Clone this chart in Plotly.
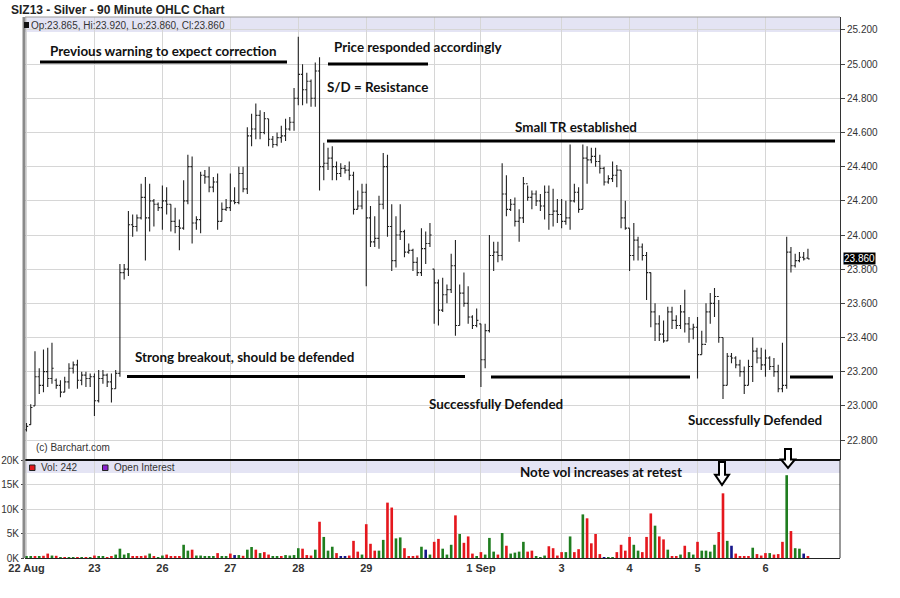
import plotly.graph_objects as go

# ---------------- data ----------------
opens = [22.86, 22.89, 23.00, 23.17, 23.12, 23.20, 23.16, 23.15, 23.12, 23.08,
         23.14, 23.22, 23.24, 23.15, 23.18, 23.16, 23.17, 23.03, 23.16, 23.18,
         23.14, 23.10, 23.19, 23.78, 23.80, 24.06, 24.05, 24.10, 24.22, 24.10,
         24.20, 24.18, 24.16, 24.20, 24.18, 24.08, 24.05, 24.04, 24.20, 24.40,
         24.07, 24.09, 24.35, 24.34, 24.28, 24.31, 24.08, 24.15, 24.16, 24.20,
         24.19, 24.36, 24.27, 24.58, 24.62, 24.70, 24.60, 24.68, 24.56, 24.53,
         24.57, 24.58, 24.62, 24.66, 24.80, 24.94, 24.85, 24.90, 24.80, 24.96,
         24.40, 24.42, 24.45, 24.40, 24.36, 24.39, 24.38, 24.35, 24.15, 24.17,
         24.25, 24.10, 23.96, 23.98, 24.18, 24.40, 24.05, 23.85, 24.00, 24.02,
         23.90, 23.91, 23.84, 23.78, 23.92, 23.95, 23.80, 23.72, 23.56, 23.65,
         23.68, 23.82, 23.47, 23.66, 23.60, 23.52, 23.47, 23.48, 23.27, 23.44,
         23.88, 23.90, 23.88, 24.24, 24.15, 24.18, 24.08, 24.10, 24.30, 24.22,
         24.24, 24.20, 24.17, 24.25, 24.12, 24.14, 24.12, 24.08, 24.10, 24.20,
         24.25, 24.15, 24.45, 24.44, 24.46, 24.43, 24.39, 24.31, 24.33, 24.35,
         24.38, 24.10, 24.04, 23.88, 23.97, 23.93, 23.88, 23.78, 23.55, 23.48,
         23.42, 23.38, 23.55, 23.50, 23.47, 23.55, 23.48, 23.45, 23.46, 23.30,
         23.36, 23.55, 23.60, 23.64, 23.40, 23.12, 23.29, 23.28, 23.24, 23.20,
         23.12, 23.23, 23.32, 23.28, 23.24, 23.28, 23.23, 23.20, 23.10, 23.12,
         23.90, 23.82, 23.85, 23.87, 23.865]
highs = [22.90, 23.01, 23.32, 23.22, 23.33, 23.34, 23.37, 23.16, 23.15, 23.17,
         23.25, 23.26, 23.27, 23.20, 23.20, 23.19, 23.19, 23.21, 23.21, 23.19,
         23.19, 23.21, 23.83, 23.83, 24.14, 24.12, 24.12, 24.30, 24.34, 24.30,
         24.21, 24.19, 24.29, 24.28, 24.18, 24.16, 24.09, 24.32, 24.47, 24.46,
         24.11, 24.37, 24.38, 24.40, 24.34, 24.36, 24.19, 24.21, 24.36, 24.28,
         24.40, 24.40, 24.63, 24.71, 24.77, 24.73, 24.72, 24.68, 24.58, 24.60,
         24.64, 24.68, 24.69, 24.86, 25.16, 25.00, 24.95, 24.91, 25.01, 25.04,
         24.54, 24.51, 24.52, 24.43, 24.42, 24.41, 24.43, 24.37, 24.26, 24.30,
         24.30, 24.17, 24.11, 24.23, 24.48, 24.47, 24.18, 24.11, 24.18, 24.03,
         23.95, 23.92, 23.87, 24.04, 24.02, 24.07, 23.80, 23.74, 23.75, 23.71,
         23.89, 23.97, 23.71, 23.78, 23.70, 23.53, 23.57, 23.48, 23.48, 24.00,
         23.96, 23.96, 24.42, 24.35, 24.21, 24.22, 24.15, 24.34, 24.29, 24.26,
         24.26, 24.24, 24.29, 24.29, 24.27, 24.21, 24.21, 24.20, 24.53, 24.30,
         24.28, 24.53, 24.52, 24.51, 24.51, 24.47, 24.40, 24.35, 24.43, 24.41,
         24.38, 24.20, 24.04, 24.07, 23.99, 23.95, 23.90, 23.78, 23.60, 23.53,
         23.50, 23.58, 23.58, 23.53, 23.59, 23.68, 23.52, 23.48, 23.52, 23.44,
         23.60, 23.66, 23.69, 23.62, 23.40, 23.31, 23.31, 23.29, 23.27, 23.23,
         23.27, 23.40, 23.34, 23.34, 23.33, 23.29, 23.28, 23.24, 23.37, 23.99,
         23.93, 23.89, 23.90, 23.90, 23.92]
lows = [22.85, 22.89, 23.00, 23.07, 23.08, 23.11, 23.13, 23.10, 23.05, 23.08,
        23.10, 23.19, 23.10, 23.12, 23.11, 23.11, 22.94, 23.02, 23.13, 23.11,
        23.02, 23.10, 23.17, 23.74, 23.76, 23.99, 24.02, 24.09, 23.85, 24.02,
        24.05, 24.14, 24.03, 24.12, 24.02, 24.01, 23.91, 24.03, 24.18, 23.95,
        24.03, 24.01, 24.30, 24.25, 24.25, 24.03, 24.08, 24.14, 24.14, 24.18,
        24.18, 24.25, 24.24, 24.52, 24.56, 24.56, 24.59, 24.52, 24.51, 24.52,
        24.54, 24.55, 24.61, 24.61, 24.76, 24.76, 24.77, 24.75, 24.75, 24.26,
        24.32, 24.38, 24.32, 24.32, 24.34, 24.36, 24.32, 24.12, 24.15, 24.15,
        23.70, 23.93, 23.93, 23.92, 24.15, 23.99, 23.79, 23.81, 23.97, 23.87,
        23.89, 23.79, 23.76, 23.76, 23.83, 23.93, 23.48, 23.47, 23.55, 23.60,
        23.66, 23.41, 23.47, 23.58, 23.48, 23.45, 23.46, 23.11, 23.22, 23.43,
        23.79, 23.84, 23.85, 24.11, 24.14, 24.05, 23.96, 24.07, 24.20, 24.15,
        24.17, 24.14, 24.09, 24.03, 24.05, 24.07, 24.04, 24.06, 24.03, 24.19,
        24.13, 24.15, 24.30, 24.42, 24.40, 24.36, 24.29, 24.30, 24.31, 24.28,
        24.04, 24.03, 23.79, 23.85, 23.85, 23.85, 23.62, 23.46, 23.38, 23.38,
        23.37, 23.38, 23.45, 23.45, 23.45, 23.43, 23.37, 23.39, 23.16, 23.30,
        23.37, 23.48, 23.52, 23.37, 23.04, 23.12, 23.25, 23.22, 23.17, 23.07,
        23.12, 23.14, 23.25, 23.21, 23.17, 23.21, 23.17, 23.08, 23.08, 23.10,
        23.78, 23.81, 23.84, 23.85, 23.86]
closes = [22.88, 22.99, 23.17, 23.12, 23.20, 23.16, 23.22, 23.12, 23.08, 23.14,
          23.22, 23.24, 23.15, 23.18, 23.16, 23.17, 23.03, 23.16, 23.18, 23.14,
          23.10, 23.19, 23.78, 23.80, 24.06, 24.05, 24.10, 24.22, 24.10, 24.20,
          24.18, 24.16, 24.20, 24.18, 24.08, 24.05, 24.04, 24.20, 24.40, 24.07,
          24.09, 24.35, 24.34, 24.28, 24.31, 24.08, 24.15, 24.16, 24.20, 24.19,
          24.36, 24.27, 24.58, 24.62, 24.70, 24.60, 24.68, 24.56, 24.53, 24.57,
          24.58, 24.62, 24.66, 24.80, 24.94, 24.85, 24.90, 24.80, 24.96, 24.40,
          24.42, 24.45, 24.40, 24.36, 24.39, 24.38, 24.35, 24.15, 24.17, 24.25,
          24.10, 23.96, 23.98, 24.18, 24.40, 24.05, 23.85, 24.00, 24.02, 23.90,
          23.91, 23.84, 23.78, 23.92, 23.95, 24.00, 23.72, 23.56, 23.65, 23.68,
          23.82, 23.47, 23.66, 23.60, 23.52, 23.47, 23.50, 23.27, 23.44, 23.88,
          23.90, 23.88, 24.24, 24.15, 24.18, 24.08, 24.10, 24.30, 24.22, 24.24,
          24.20, 24.17, 24.25, 24.12, 24.14, 24.12, 24.08, 24.10, 24.20, 24.25,
          24.15, 24.45, 24.44, 24.46, 24.43, 24.39, 24.31, 24.33, 24.35, 24.38,
          24.10, 24.04, 23.88, 23.97, 23.93, 23.88, 23.78, 23.55, 23.48, 23.42,
          23.38, 23.55, 23.50, 23.47, 23.55, 23.48, 23.45, 23.46, 23.30, 23.36,
          23.55, 23.60, 23.64, 23.40, 23.12, 23.29, 23.28, 23.24, 23.20, 23.12,
          23.23, 23.32, 23.28, 23.24, 23.28, 23.23, 23.20, 23.10, 23.12, 23.90,
          23.82, 23.85, 23.87, 23.86, 23.86]
volumes = [300, 300, 350, 300, 450, 900, 500, 450, 40, 40,
           40, 40, 40, 40, 40, 40, 500, 300, 250, 40,
           250, 700, 1900, 700, 1000, 250, 250, 250, 500, 900,
           250, 50, 500, 700, 350, 350, 400, 2700, 1500, 1700,
           500, 500, 250, 250, 250, 1000, 400, 300, 900, 600,
           600, 450, 1700, 2250, 1700, 1000, 1200, 700, 250, 250,
           250, 600, 500, 600, 2000, 1900, 600, 500, 1700, 7400,
           4300, 1500, 2300, 1000, 250, 250, 500, 3500, 1300, 700,
           6900, 2900, 1500, 1500, 3700, 11300, 10300, 4000, 4200, 2000,
           300, 350, 500, 2300, 1700, 700, 3300, 3900, 1900, 700,
           2700, 8700, 4900, 3100, 4400, 900, 250, 1200, 700, 4100,
           1300, 700, 5100, 2500, 900, 1100, 1300, 3300, 1300, 1500,
           250, 200, 500, 2400, 2000, 500, 1200, 1200, 4400, 1200,
           1800, 8900, 8100, 3000, 4900, 800, 200, 200, 200, 1200,
           2700, 1500, 4300, 2700, 1500, 1200, 4300, 9100, 6600, 4400,
           3800, 1700, 250, 250, 700, 2500, 1200, 700, 3300, 1500,
           1500, 1300, 2700, 5300, 13200, 3500, 2500, 900, 250, 250,
           250, 2100, 800, 500, 1000, 1000, 700, 800, 3300, 16900,
           5500, 2000, 1900, 900, 242]
# volume bar colour code per bar: g = up, r = down, b = unchanged
vol_dir_rows = ["ggrgrrgrgr", "ggrgrgrggr", "rggggrrrrg", "rggrrrrggr",
                "gggggrggrb", "grggrgrrgg", "rggggrrrgr", "gggrbbrrrg",
                "rrrggrrggr", "rrrgbgrrgg", "grgrrrgrgg", "grgrggggrr",
                "gggrrrrggr", "rgrrrrbggr", "rrrggrrrgr", "rgrrgrggrg",
                "gggrrgbrrr", "rgrrrgrrrg", "rggbr"]
day_ticks = [0, 16, 32, 48, 64, 80, 96, 107, 126, 142, 158, 174]
day_labels = ["22 Aug", "23", "26", "27", "28", "29", "", "1 Sep", "3", "4", "5", "6"]
price_ticks = [22.8, 23.0, 23.2, 23.4, 23.6, 23.8, 24.0, 24.2, 24.4, 24.6, 24.8, 25.0, 25.2]
vol_ticks = [0, 5000, 10000, 15000, 20000]
vol_labels = ["0K", "5K", "10K", "15K", "20K"]
last_price = 23.86

# ---------------- figure ----------------
vol_dir = "".join(vol_dir_rows)
n = len(closes)
assert len(opens) == len(highs) == len(lows) == n == len(volumes) == len(vol_dir)
idx = list(range(n))
colmap = {"g": "#1f7d1f", "r": "#e5171d", "b": "#16168a"}
vol_colors = [colmap[c] for c in vol_dir]

W, H = 900, 598
# plot area in picture pixels
L, R, T, B = 25, 840, 17, 558


def PX(x):
    return (x - L) / (R - L)


def PY(y):
    return (B - y) / (B - T)


SPLIT = PY(460)
XR = [-0.35, 191.55]
GRID = "#d6d6d6"
TXT = "#333333"
AXF = "Arial"

fig = go.Figure()
fig.add_trace(go.Ohlc(
    x=idx, open=opens, high=highs, low=lows, close=closes,
    xaxis="x", yaxis="y",
    increasing=dict(line=dict(color="#222222", width=1.1)),
    decreasing=dict(line=dict(color="#222222", width=1.1)),
    tickwidth=0.4, showlegend=False, hoverinfo="skip"))
fig.add_trace(go.Bar(
    x=idx, y=volumes, marker=dict(color=vol_colors, line=dict(width=0)),
    width=0.62, xaxis="x2", yaxis="y2", showlegend=False, hoverinfo="skip"))

fig.update_layout(
    width=W, height=H,
    margin=dict(l=L, r=W - R, t=T, b=H - B, autoexpand=False),
    paper_bgcolor="white", plot_bgcolor="white", showlegend=False,
    xaxis=dict(domain=[0, 1], anchor="y", range=XR, tickvals=day_ticks,
               showticklabels=False, showgrid=True, gridcolor=GRID, gridwidth=1,
               zeroline=False, showline=False, ticks="", automargin=False,
               rangeslider=dict(visible=False)),
    xaxis2=dict(domain=[0, 1], anchor="y2", matches="x", range=XR,
                tickvals=day_ticks, ticktext=day_labels, automargin=False,
                tickfont=dict(family=AXF, size=11, color=TXT, weight="bold"),
                showgrid=True, gridcolor=GRID, zeroline=False, showline=True,
                linecolor="#222222", linewidth=1, ticks=""),
    yaxis=dict(domain=[SPLIT, 1], anchor="x", side="right", automargin=False,
               range=[22.683, 25.276], tickvals=price_ticks, tickformat=".3f",
               ticks="outside", ticklen=4, tickcolor="#444444",
               tickfont=dict(family=AXF, size=10, color=TXT),
               showgrid=True, gridcolor=GRID, zeroline=False,
               showline=True, linecolor="#333333", linewidth=1),
    yaxis2=dict(domain=[0, SPLIT], anchor="x2", side="left", range=[0, 20000],
                tickvals=vol_ticks, ticktext=vol_labels, ticks="outside",
                ticklen=3, tickcolor="#444444", automargin=False,
                tickfont=dict(family=AXF, size=10, color=TXT),
                showgrid=True, gridcolor=GRID, zeroline=False, showline=False),
)

shapes = []
# header band and volume legend band
shapes.append(dict(type="rect", xref="paper", yref="paper", x0=0, x1=1,
                   y0=PY(32), y1=PY(17), fillcolor="#e4e4f4", line=dict(width=0),
                   layer="below"))
shapes.append(dict(type="rect", xref="paper", yref="paper", x0=0, x1=1,
                   y0=PY(473), y1=PY(460), fillcolor="#e4e4f4", line=dict(width=0),
                   layer="below"))
# panel borders
shapes.append(dict(type="line", xref="paper", yref="paper", x0=0, x1=1,
                   y0=SPLIT, y1=SPLIT, line=dict(color="#111111", width=2)))
shapes.append(dict(type="line", xref="paper", yref="paper", x0=0, x1=1,
                   y0=1, y1=1, line=dict(color="#9a9a9a", width=1)))
shapes.append(dict(type="line", xref="paper", yref="paper", x0=1, x1=1,
                   y0=0, y1=SPLIT, line=dict(color="#333333", width=1)))
shapes.append(dict(type="line", xref="paper", yref="paper", x0=PX(24), x1=PX(24),
                   y0=0, y1=1, line=dict(color="#8a8a8a", width=3)))
# header square and legend squares
shapes.append(dict(type="rect", xref="paper", yref="paper", x0=PX(24), x1=PX(29),
                   y0=PY(28), y1=PY(22), fillcolor="#111111", line=dict(width=0)))
shapes.append(dict(type="rect", xref="paper", yref="paper", x0=PX(29.5), x1=PX(35),
                   y0=PY(470.5), y1=PY(465), fillcolor="#e5171d",
                   line=dict(color="#222222", width=1)))
shapes.append(dict(type="rect", xref="paper", yref="paper", x0=PX(102.5), x1=PX(108),
                   y0=PY(470.5), y1=PY(465), fillcolor="#8a22d0",
                   line=dict(color="#222222", width=1)))

# hand-drawn commentary lines (pixel positions from the picture)
for (xa, xb, yy) in [(40, 287, 62), (328, 428, 64), (327, 835, 141),
                     (127, 465, 376.5), (491, 690, 377), (790, 833, 377)]:
    shapes.append(dict(type="line", xref="paper", yref="paper", x0=PX(xa), x1=PX(xb),
                       y0=PY(yy), y1=PY(yy), line=dict(color="#000000", width=3)))


# hollow down arrows
def arrow(cx, top, bottom):
    sh = 3
    hw = 7
    mid = top + (bottom - top) * 0.55
    pts = [(cx - sh, top), (cx + sh, top), (cx + sh, mid), (cx + hw, mid),
           (cx, bottom), (cx - hw, mid), (cx - sh, mid)]
    path = "M " + " L ".join(f"{PX(x):.5f},{PY(y):.5f}" for x, y in pts) + " Z"
    return dict(type="path", xref="paper", yref="paper", path=path,
                fillcolor="white", line=dict(color="#000000", width=2))


shapes.append(arrow(722, 462, 485))
shapes.append(arrow(788, 449, 468))
fig.update_layout(shapes=shapes)

ann = []
# title
ann.append(dict(text="<b>SIZ13 - Silver - 90 Minute OHLC Chart</b>", xref="paper",
                yref="paper", x=PX(9), y=PY(10), xanchor="left", yanchor="middle",
                showarrow=False, font=dict(family=AXF, size=12, color="#222222")))
ann.append(dict(text="Op:23.865, Hi:23.920, Lo:23.860, Cl:23.860", xref="paper",
                yref="paper", x=PX(29), y=PY(25.5), xanchor="left", yanchor="middle",
                showarrow=False, font=dict(family=AXF, size=10, color=TXT)))
ann.append(dict(text="(c) Barchart.com", xref="paper", yref="paper", x=PX(34),
                y=PY(447), xanchor="left", yanchor="middle", showarrow=False,
                font=dict(family=AXF, size=10, color=TXT)))
ann.append(dict(text=f"Vol: {volumes[-1]}", xref="paper", yref="paper", x=PX(39),
                y=PY(467.5), xanchor="left", yanchor="middle", showarrow=False,
                font=dict(family=AXF, size=10, color=TXT)))
ann.append(dict(text="Open Interest", xref="paper", yref="paper", x=PX(112),
                y=PY(467.5), xanchor="left", yanchor="middle", showarrow=False,
                font=dict(family=AXF, size=10, color=TXT)))
# last price box
ann.append(dict(text=f"{last_price:.3f}", xref="paper", yref="y", x=1, xshift=3,
                y=last_price, xanchor="left", yanchor="middle", showarrow=False,
                bgcolor="#000000", borderpad=0,
                font=dict(family=AXF, size=10, color="white")))

NOTE = dict(family="Lato", size=13.4, color="#111111", weight="bold")
for (t, x, y) in [("Previous warning to expect correction", 48, 51),
                  ("Price responded accordingly", 332, 46.5),
                  ("S/D = Resistance", 325, 87),
                  ("Small TR established", 513, 127),
                  ("Strong breakout, should be defended", 133, 357),
                  ("Successfully Defended", 427, 403.5),
                  ("Successfully Defended", 686, 420),
                  ("Note vol increases at retest", 518, 471.5)]:
    ann.append(dict(text=t, xref="paper", yref="paper", x=PX(x), y=PY(y),
                    xanchor="left", yanchor="middle", showarrow=False, font=NOTE))
fig.update_layout(annotations=ann)

# remove the browser's default 8px page margin so the figure sits at (0, 0)
fig.write_html("out.html", config={"displayModeBar": False},
               post_script="document.body.style.margin='0px';")
